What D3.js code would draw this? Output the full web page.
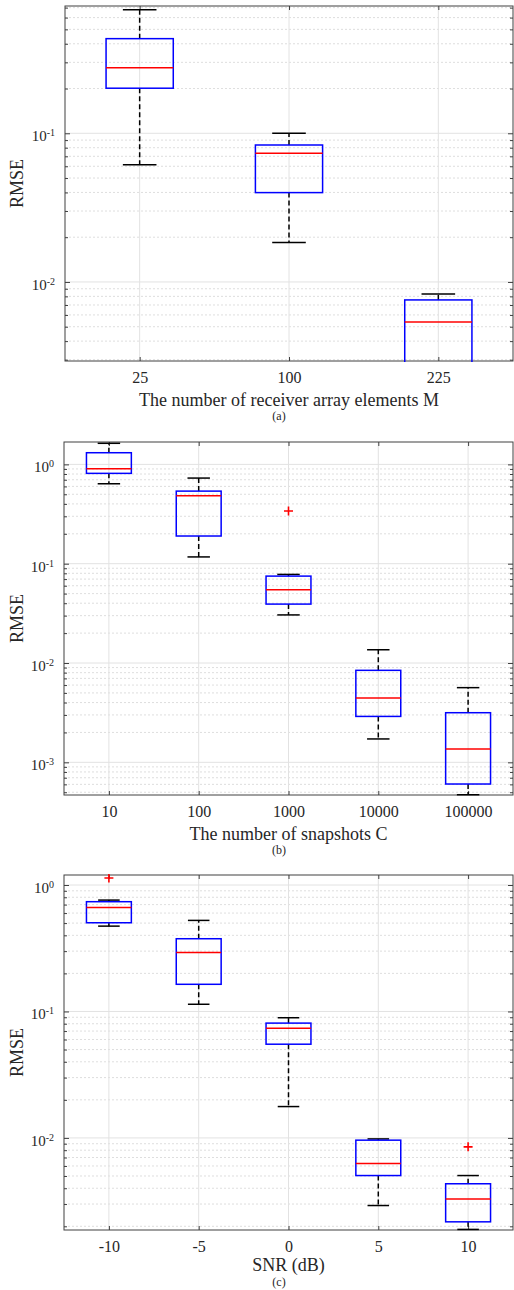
<!DOCTYPE html>
<html>
<head>
<meta charset="utf-8">
<script src="https://cdn.jsdelivr.net/npm/d3@7"></script>
<style>
  body { margin: 0; background: #fff; }
  text { font-family: "Liberation Serif", "Times New Roman", serif; fill: #262626; }
</style>
</head>
<body>
<svg id="fig" width="514" height="1290"></svg>
<script>
// RMSE box plots, three panels (a) (b) (c)

// panel (a): receiver array elements
var catsA = ["25", "100", "225"];
var whiskerHiA = [0.678, 0.100, 0.0083];
var boxHiA     = [0.433, 0.0834, 0.00757];
var medianA    = [0.276, 0.0734, 0.00538];
var boxLoA     = [0.201, 0.0399, 0.0026];
var whiskerLoA = [0.0615, 0.0184, 0.0022];
var outliersA  = [[], [], []];
var ylimA = [0.00294, 0.718];

// panel (b): snapshots
var catsB = ["10", "100", "1000", "10000", "100000"];
var whiskerHiB = [1.63, 0.728, 0.078, 0.0136, 0.00565];
var boxHiB     = [1.31, 0.538, 0.075, 0.00844, 0.00316];
var medianB    = [0.903, 0.483, 0.0547, 0.00444, 0.00136];
var boxLoB     = [0.812, 0.19, 0.0392, 0.0029, 0.000605];
var whiskerLoB = [0.638, 0.117, 0.0305, 0.00172, 0.000472];
var outliersB  = [[], [], [0.339], [], []];
var ylimB = [0.000469, 1.68];

// panel (c): SNR
var catsC = ["-10", "-5", "0", "5", "10"];
var whiskerHiC = [0.76, 0.525, 0.0892, 0.00982, 0.00504];
var boxHiC     = [0.738, 0.376, 0.0809, 0.0096, 0.00434];
var medianC    = [0.665, 0.293, 0.0738, 0.00627, 0.00329];
var boxLoC     = [0.503, 0.164, 0.0551, 0.00504, 0.00217];
var whiskerLoC = [0.473, 0.114, 0.0177, 0.00292, 0.00189];
var outliersC  = [[1.136], [], [], [], [0.0085]];
var ylimC = [0.00187, 1.2];

var panels = [
  { id: "a", cats: catsA, hi: whiskerHiA, q3: boxHiA, med: medianA, q1: boxLoA, lo: whiskerLoA, out: outliersA,
    ylim: ylimA, xlabel: "The number of receiver array elements M",
    left: 65, right: 513, top: 6, bottom: 361, boxW: 0.45, capW: 0.225 },
  { id: "b", cats: catsB, hi: whiskerHiB, q3: boxHiB, med: medianB, q1: boxLoB, lo: whiskerLoB, out: outliersB,
    ylim: ylimB, xlabel: "The number of snapshots C",
    left: 64, right: 513, top: 442, bottom: 795, boxW: 0.5, capW: 0.25 },
  { id: "c", cats: catsC, hi: whiskerHiC, q3: boxHiC, med: medianC, q1: boxLoC, lo: whiskerLoC, out: outliersC,
    ylim: ylimC, xlabel: "SNR (dB)",
    left: 64, right: 513, top: 875, bottom: 1230, boxW: 0.5, capW: 0.24 }
];

var svg = d3.select("#fig");

panels.forEach(function(p) {
  var n = p.cats.length;
  var x = d3.scaleLinear().domain([0.5, n + 0.5]).range([p.left, p.right]);
  var y = d3.scaleLog().domain(p.ylim).range([p.bottom, p.top]);
  var unit = x(2) - x(1);

  // decade and minor tick values inside the limits
  var kLo = Math.floor(Math.log10(p.ylim[0]));
  var kHi = Math.ceil(Math.log10(p.ylim[1]));
  var major = [], minor = [];
  for (var k = kLo; k <= kHi; k++) {
    var base = Math.pow(10, k);
    if (base >= p.ylim[0] && base <= p.ylim[1]) major.push(base);
    for (var m = 2; m <= 9; m++) {
      var v = m * base;
      if (v >= p.ylim[0] && v <= p.ylim[1]) minor.push(v);
    }
  }

  var g = svg.append("g").attr("id", "panel-" + p.id);

  // grid
  g.selectAll("line.minor").data(minor).enter().append("line")
    .attr("x1", p.left).attr("x2", p.right)
    .attr("y1", d => y(d)).attr("y2", d => y(d))
    .attr("stroke", "#d6d6d6").attr("stroke-width", 0.8).attr("stroke-dasharray", "2,2");
  g.selectAll("line.major").data(major).enter().append("line")
    .attr("x1", p.left).attr("x2", p.right)
    .attr("y1", d => y(d)).attr("y2", d => y(d))
    .attr("stroke", "#e2e2e2").attr("stroke-width", 1);
  g.selectAll("line.xgrid").data(d3.range(1, n + 1)).enter().append("line")
    .attr("x1", d => x(d)).attr("x2", d => x(d))
    .attr("y1", p.top).attr("y2", p.bottom)
    .attr("stroke", "#e2e2e2").attr("stroke-width", 1);

  // axes with inward ticks
  var axL = g.append("g").attr("transform", "translate(" + p.left + ",0)")
    .call(d3.axisLeft(y).tickValues(major).tickSize(-5).tickSizeOuter(0).tickFormat(""));
  var axLm = g.append("g").attr("transform", "translate(" + p.left + ",0)")
    .call(d3.axisLeft(y).tickValues(minor).tickSize(-3).tickSizeOuter(0).tickFormat(""));
  var axR = g.append("g").attr("transform", "translate(" + p.right + ",0)")
    .call(d3.axisRight(y).tickValues(major).tickSize(-5).tickSizeOuter(0).tickFormat(""));
  var axRm = g.append("g").attr("transform", "translate(" + p.right + ",0)")
    .call(d3.axisRight(y).tickValues(minor).tickSize(-3).tickSizeOuter(0).tickFormat(""));
  var axB = g.append("g").attr("transform", "translate(0," + p.bottom + ")")
    .call(d3.axisBottom(x).tickValues(d3.range(1, n + 1)).tickSize(-4).tickSizeOuter(0)
      .tickPadding(11).tickFormat(d => p.cats[d - 1]));
  var axT = g.append("g").attr("transform", "translate(0," + p.top + ")")
    .call(d3.axisTop(x).tickValues(d3.range(1, n + 1)).tickSize(-4).tickSizeOuter(0).tickFormat(""));
  [axL, axLm, axR, axRm, axB, axT].forEach(function(a) {
    a.select(".domain").remove();
    a.selectAll(".tick line").attr("stroke", "#404040");
  });
  axB.selectAll("text")
    .style("font-family", "Liberation Serif").style("font-size", "16px").attr("fill", "#262626");

  // y tick labels 10^k
  var yl = g.selectAll("text.ylab").data(major).enter().append("text")
    .attr("class", "ylab")
    .attr("x", p.left - 10).attr("y", d => y(d) + 8)
    .attr("text-anchor", "end").style("font-size", "15px");
  yl.append("tspan").text("10");
  yl.append("tspan").attr("dy", -5).style("font-size", "10px")
    .text(d => String(Math.round(Math.log10(d))));

  // box frame
  g.append("rect")
    .attr("x", p.left).attr("y", p.top)
    .attr("width", p.right - p.left).attr("height", p.bottom - p.top)
    .attr("fill", "none").attr("stroke", "#404040").attr("stroke-width", 1);

  // boxes, clipped to the plot
  svg.append("clipPath").attr("id", "clip-" + p.id).append("rect")
    .attr("x", p.left - 1).attr("y", p.top - 1)
    .attr("width", p.right - p.left + 2).attr("height", p.bottom - p.top + 2);
  var plot = g.append("g").attr("clip-path", "url(#clip-" + p.id + ")");

  var idx = d3.range(n);
  var half = p.boxW * unit / 2, capHalf = p.capW * unit / 2;

  // whiskers
  plot.selectAll("line.wup").data(idx).enter().append("line")
    .attr("x1", i => x(i + 1)).attr("x2", i => x(i + 1))
    .attr("y1", i => y(p.q3[i])).attr("y2", i => y(p.hi[i]))
    .attr("stroke", "#000").attr("stroke-width", 1.5).attr("stroke-dasharray", "5,3");
  plot.selectAll("line.wdn").data(idx).enter().append("line")
    .attr("x1", i => x(i + 1)).attr("x2", i => x(i + 1))
    .attr("y1", i => y(p.q1[i])).attr("y2", i => y(p.lo[i]))
    .attr("stroke", "#000").attr("stroke-width", 1.5).attr("stroke-dasharray", "5,3");
  // caps
  ["hi", "lo"].forEach(function(key) {
    plot.selectAll("line.cap-" + key).data(idx).enter().append("line")
      .attr("x1", i => x(i + 1) - capHalf).attr("x2", i => x(i + 1) + capHalf)
      .attr("y1", i => y(p[key][i])).attr("y2", i => y(p[key][i]))
      .attr("stroke", "#000").attr("stroke-width", 1.5);
  });
  // boxes
  plot.selectAll("rect.box").data(idx).enter().append("rect")
    .attr("x", i => x(i + 1) - half).attr("width", 2 * half)
    .attr("y", i => y(p.q3[i])).attr("height", i => y(p.q1[i]) - y(p.q3[i]))
    .attr("fill", "none").attr("stroke", "#0000ff").attr("stroke-width", 1.5);
  // medians
  plot.selectAll("line.med").data(idx).enter().append("line")
    .attr("x1", i => x(i + 1) - half).attr("x2", i => x(i + 1) + half)
    .attr("y1", i => y(p.med[i])).attr("y2", i => y(p.med[i]))
    .attr("stroke", "#ff0000").attr("stroke-width", 1.5);
  // outliers
  var outs = [];
  p.out.forEach(function(list, i) { list.forEach(v => outs.push({ i: i, v: v })); });
  plot.selectAll("path.out").data(outs).enter().append("path")
    .attr("transform", d => "translate(" + x(d.i + 1) + "," + y(d.v) + ")")
    .attr("d", "M-4.5,0H4.5M0,-4.5V4.5")
    .attr("stroke", "#ff0000").attr("stroke-width", 1.6).attr("fill", "none");

  // labels
  var cx = (p.left + p.right) / 2;
  g.append("text")
    .attr("transform", "translate(" + 23 + "," + ((p.top + p.bottom) / 2) + ") rotate(-90)")
    .attr("text-anchor", "middle").style("font-size", "18px").text("RMSE");
  g.append("text")
    .attr("x", cx).attr("y", Math.min(p.bottom + 45, 1271))
    .attr("text-anchor", "middle").style("font-size", "18px").text(p.xlabel);
  g.append("text")
    .attr("x", 279).attr("y", Math.min(p.bottom + 59, 1286))
    .attr("text-anchor", "middle").style("font-size", "12px").text("(" + p.id + ")");
});
</script>
</body>
</html>
